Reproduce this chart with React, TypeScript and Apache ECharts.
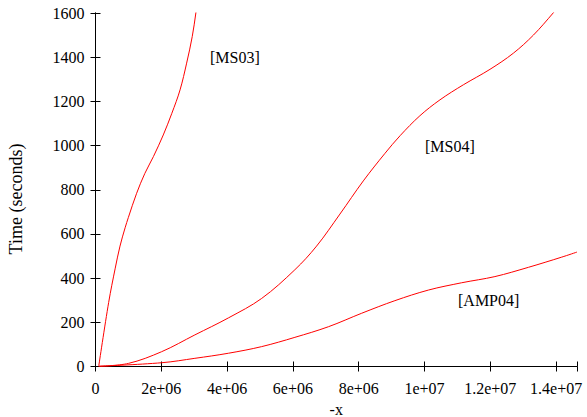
import React, { useEffect, useRef } from "react";
import * as echarts from "echarts";

const ms03X = [0.1e6, 0.4e6, 0.6e6, 0.745e6, 0.9e6, 1.0e6, 1.25e6, 1.5e6, 1.76e6, 2.06e6, 2.32e6, 2.57e6, 2.77e6, 2.94e6, 3.05e6, 3.12e6];
const ms03Y = [3, 290, 445, 545, 628, 675, 784, 874, 950, 1048, 1146, 1252, 1373, 1493, 1600, 1680];

const ms04X = [0.1e6, 1.0e6, 2.01e6, 3.02e6, 4.04e6, 5.05e6, 6.06e6, 6.72e6, 7.43e6, 8.14e6, 8.8e6, 9.26e6, 9.86e6, 10.47e6, 11.18e6, 11.99e6, 12.7e6, 13.31e6, 13.91e6, 14.3e6];
const ms04Y = [1, 14, 67, 143, 220, 308, 438, 545, 690, 840, 965, 1045, 1135, 1207, 1275, 1345, 1418, 1500, 1600, 1670];

const amp04X = [0.1e6, 2.01e6, 3.02e6, 4.04e6, 5.05e6, 6.06e6, 7.08e6, 8.09e6, 9.1e6, 10.12e6, 11.13e6, 12.14e6, 13.16e6, 14.17e6, 14.635e6];
const amp04Y = [1, 17, 37, 60, 90, 132, 180, 241, 298, 346, 379, 407, 449, 495, 518];

const seriesNames = ["[MS03]", "[MS04]", "[AMP04]"];
const labelPos = [
  [210, 58],
  [425, 147],
  [458, 301],
];

const FONT = "'Liberation Serif', 'Times New Roman', serif";

function fmtX(v: number): string {
  if (v === 0) return "0";
  if (v % 2e6 !== 0) return "";
  const exp = Math.floor(Math.log10(v));
  const m = parseFloat((v / Math.pow(10, exp)).toPrecision(6));
  return `${m}e+${String(exp).padStart(2, "0")}`;
}

export default function App() {
  const ref = useRef<HTMLDivElement>(null);
  useEffect(() => {
    if (!ref.current) return;
    const chart = echarts.init(ref.current, undefined, { renderer: "svg" });
    const pairs = (xs: number[], ys: number[]) => xs.map((x, i) => [x, ys[i]]);
    const axisLine = { show: true, lineStyle: { color: "#000", width: 1 } };
    const tick = { show: true, inside: true, length: 5, lineStyle: { color: "#000" } };
    const lbl = { color: "#000", fontFamily: FONT, fontSize: 16 };
    chart.setOption({
      animation: false,
      backgroundColor: "#fff",
      grid: {
        left: 95.5,
        right: 10,
        top: 13,
        bottom: 50.5,
        containLabel: false,
        outerBoundsMode: "none",
      },
      xAxis: [
        {
          type: "value",
          min: 0,
          max: 14635000,
          interval: 2000000,
          position: "bottom",
          axisLine,
          axisTick: tick,
          splitLine: { show: false },
          axisLabel: { ...lbl, margin: 14, formatter: fmtX },
          name: "-x",
          nameLocation: "middle",
          nameGap: 34,
          nameTextStyle: { ...lbl },
        },
        {
          type: "value",
          min: 0,
          max: 14635000,
          interval: 2000000,
          position: "top",
          axisLine,
          axisTick: tick,
          splitLine: { show: false },
          axisLabel: { show: false },
        },
      ],
      yAxis: [
        {
          type: "value",
          min: 0,
          max: 1600,
          interval: 200,
          position: "left",
          axisLine,
          axisTick: tick,
          splitLine: { show: false },
          axisLabel: { ...lbl, margin: 11, formatter: (v: number) => String(v) },
        },
        {
          type: "value",
          min: 0,
          max: 1600,
          interval: 200,
          position: "right",
          axisLine,
          axisTick: tick,
          splitLine: { show: false },
          axisLabel: { show: false },
        },
      ],
      series: [
        { name: seriesNames[0], data: pairs(ms03X, ms03Y) },
        { name: seriesNames[1], data: pairs(ms04X, ms04Y) },
        { name: seriesNames[2], data: pairs(amp04X, amp04Y) },
      ].map((s) => ({
        ...s,
        type: "line",
        smooth: 0.35,
        showSymbol: false,
        clip: true,
        lineStyle: { color: "#ff0000", width: 1 },
        itemStyle: { color: "#ff0000" },
      })),
      graphic: [
        ...seriesNames.map((n, i) => ({
          type: "text",
          left: labelPos[i][0],
          top: labelPos[i][1] - 9,
          style: { text: n, fill: "#000", font: `16px ${FONT}` },
        })),
        {
          type: "text",
          x: 16,
          y: 199,
          rotation: Math.PI / 2,
          style: {
            text: "Time (seconds)",
            fill: "#000",
            font: `18px ${FONT}`,
            textAlign: "center",
            textVerticalAlign: "middle",
          },
        },
      ],
    });
    return () => chart.dispose();
  }, []);
  return (
    <div
      ref={ref}
      style={{ width: 587, height: 417, position: "fixed", left: 0, top: 0 }}
    />
  );
}
